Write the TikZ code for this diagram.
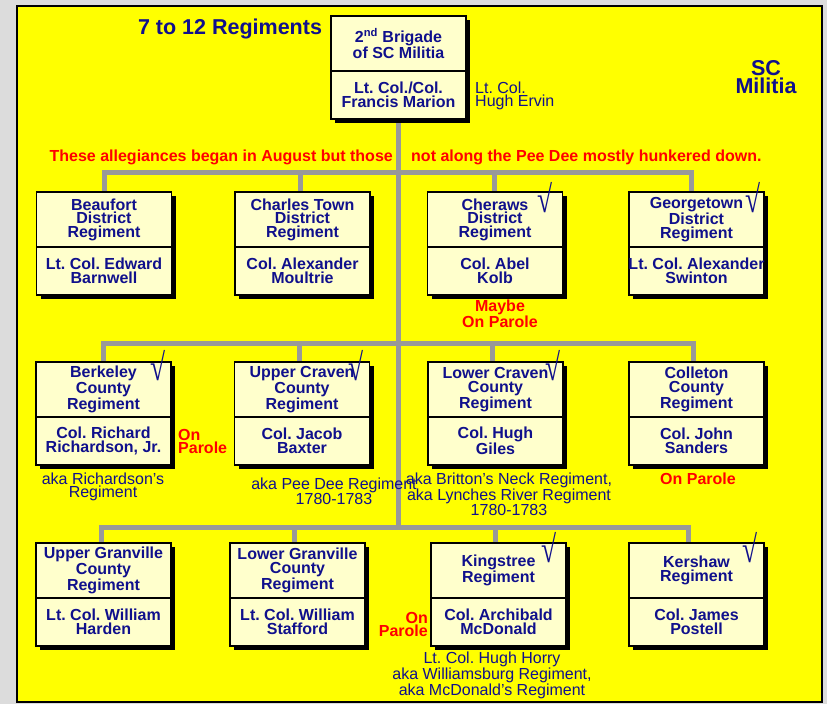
\documentclass[tikz,border=0pt]{standalone}
\usepackage{fontspec}
\usepackage{graphicx}
\setmainfont{Liberation Sans}
\newfontfamily\chkfont{Liberation Serif}
\usetikzlibrary{shadows}
\definecolor{txtnavy}{HTML}{10108C}
\definecolor{bggrey}{HTML}{DCDCDC}
\definecolor{boxfill}{HTML}{FFFFCC}
\definecolor{conngrey}{HTML}{999999}
\definecolor{bright}{HTML}{FF0000}
\definecolor{bgyellow}{HTML}{FFFF00}
\pgfdeclarelayer{bg}
\pgfdeclarelayer{lines}
\pgfsetlayers{bg,lines,main}
\newcommand\regbox[5]{%
  \node[regbox] (#1) at (#2,#3+51.5) {};
  \draw[divline] (#2-67.5,#3+55) -- (#2+67.5,#3+55);
  \node[regtxt] (#1t) at (#2,#3+27.5) {#4};
  \node[regtxt] (#1b) at (#2,#3+79) {#5};
}
\frenchspacing
\begin{document}
\begin{tikzpicture}[x=1pt,y=-1pt,
  conn/.style={draw=conngrey,line width=5pt},
  divline/.style={draw=black,line width=1.2pt},
  regbox/.style={draw=black,line width=1.5pt,fill=boxfill,minimum width=135pt,minimum height=103pt,inner sep=0pt,
    drop shadow={shadow xshift=4pt,shadow yshift=-4pt,opacity=1,fill=black}},
  regtxt/.style={text=txtnavy,font=\fontsize{16}{13.5}\selectfont\bfseries,align=center,inner sep=0pt},
  note/.style={text=txtnavy,font=\fontsize{16}{13.5}\selectfont,align=center,inner sep=0pt},
  rednote/.style={text=bright,font=\fontsize{16}{13.5}\selectfont\bfseries,align=center,inner sep=0pt},
  chk/.style={text=txtnavy,font=\chkfont\fontsize{38}{38}\selectfont,inner sep=0pt},
  bigtitle/.style={text=txtnavy,font=\fontsize{21.5}{18.5}\selectfont\bfseries,align=center,inner sep=0pt}
]
\useasboundingbox (0,0) rectangle (827,704);
\begin{pgfonlayer}{bg}
  \fill[bggrey] (0,0) rectangle (827,704);
  \draw[fill=bgyellow,line width=1.5pt] (17,6) rectangle (822,702);
\end{pgfonlayer}

% boxes
\regbox{top}{398.5}{16}{2\textsuperscript{nd} Brigade\\of SC Militia}{Lt. Col./Col.\\Francis Marion}

\regbox{b11}{104}{192}{Beaufort\\District\\Regiment}{Lt. Col. Edward\\Barnwell}
\regbox{b12}{302.5}{192}{Charles Town\\District\\Regiment}{Col. Alexander\\Moultrie}
\regbox{b13}{495}{192}{Cheraws\\District\\Regiment}{Col. Abel\\Kolb}
\regbox{b14}{696.5}{192}{Georgetown\\District\\Regiment}{Lt. Col. Alexander\\Swinton}

\regbox{b21}{103.5}{362}{Berkeley\\County\\Regiment}{Col. Richard\\Richardson, Jr.}
\regbox{b22}{302}{362}{Upper Craven\\County\\Regiment}{Col. Jacob\\Baxter}
\regbox{b23}{495.5}{362}{Lower Craven\\County\\Regiment}{Col. Hugh\\Giles}
\regbox{b24}{696.5}{362}{Colleton\\County\\Regiment}{Col. John\\Sanders}

\regbox{b31}{103.5}{543}{Upper Granville\\County\\Regiment}{Lt. Col. William\\Harden}
\regbox{b32}{297.5}{543}{Lower Granville\\County\\Regiment}{Lt. Col. William\\Stafford}
\regbox{b33}{498.5}{543}{Kingstree\\Regiment}{Col. Archibald\\McDonald}
\regbox{b34}{696.5}{543}{Kershaw\\Regiment}{Col. James\\Postell}

% connectors
\coordinate (j1) at (398.5,172);
\coordinate (j2) at (398.5,343);
\coordinate (j3) at (398.5,527);
\coordinate (d11) at (b11.north);
\coordinate (d12) at ([xshift=-2.5pt]b12.north);
\coordinate (d13) at ([xshift=-1pt]b13.north);
\coordinate (d14) at ([xshift=-5.5pt]b14.north);
\coordinate (d21) at ([xshift=-0.5pt]b21.north);
\coordinate (d22) at ([xshift=-3pt]b22.north);
\coordinate (d23) at ([xshift=-3.5pt]b23.north);
\coordinate (d24) at ([xshift=-3.5pt]b24.north);
\coordinate (d31) at ([xshift=-2.5pt]b31.north);
\coordinate (d32) at ([xshift=-3.5pt]b32.north);
\coordinate (d33) at ([xshift=-3.5pt]b33.north);
\coordinate (d34) at ([xshift=-8.5pt]b34.north);
\begin{pgfonlayer}{lines}
  \draw[conn] (top.south) -- (j3);
  \draw[conn] (d11) -- (d11 |- j1) -- (d14 |- j1) -- (d14);
  \draw[conn] (d12) -- (d12 |- j1);
  \draw[conn] (d13) -- (d13 |- j1);
  \draw[conn] (d21) -- (d21 |- j2) -- (d24 |- j2) -- (d24);
  \draw[conn] (d22) -- (d22 |- j2);
  \draw[conn] (d23) -- (d23 |- j2);
  \draw[conn] (d31) -- (d31 |- j3) -- (d34 |- j3) -- (d34);
  \draw[conn] (d32) -- (d32 |- j3);
  \draw[conn] (d33) -- (d33 |- j3);
\end{pgfonlayer}

% titles
\node[bigtitle] (title) at (230,29) {7 to 12 Regiments};
\node[bigtitle] (scm) at (766,77) {SC\\Militia};
\node[note,anchor=west,align=left] (ervin) at (475,96) {Lt. Col.\\Hugh Ervin};

% red notes
\node[rednote,anchor=east] (allegl) at (393,157) {These allegiances began in August but those};
\node[rednote,anchor=west] (allegr) at (411,157) {not along the Pee Dee mostly hunkered down.};
\node[rednote] (maybe) at (500,314) {Maybe\\On Parole};
\node[rednote,anchor=west,align=left] (op21) at (178,441.5) {On\\Parole};
\node[rednote] (op24) at (698,479) {On Parole};
\node[rednote,anchor=east,align=right] (op33) at (428,624.5) {On\\Parole};

% navy notes
\node[note] (aka21) at (103,487) {aka Richardson’s\\Regiment};
\node[note] (aka22) at (334,491.5) {aka Pee Dee Regiment\\1780-1783};
\node[note] (aka23) at (509,494.5) {aka Britton’s Neck Regiment,\\aka Lynches River Regiment\\1780-1783};
\node[note] (aka33) at (492,675.5) {Lt. Col. Hugh Horry\\aka Williamsburg Regiment,\\aka McDonald’s Regiment};

% check marks
\node[chk] (c13) at (545,198) {\scalebox{0.72}[1]{√}};
\node[chk] (c14) at (753,198) {\scalebox{0.72}[1]{√}};
\node[chk] (c21) at (158,366) {\scalebox{0.72}[1]{√}};
\node[chk] (c22) at (356,366) {\scalebox{0.72}[1]{√}};
\node[chk] (c23) at (553,366) {\scalebox{0.72}[1]{√}};
\node[chk] (c33) at (549,548) {\scalebox{0.72}[1]{√}};
\node[chk] (c34) at (750,548) {\scalebox{0.72}[1]{√}};
\end{tikzpicture}
\end{document}
